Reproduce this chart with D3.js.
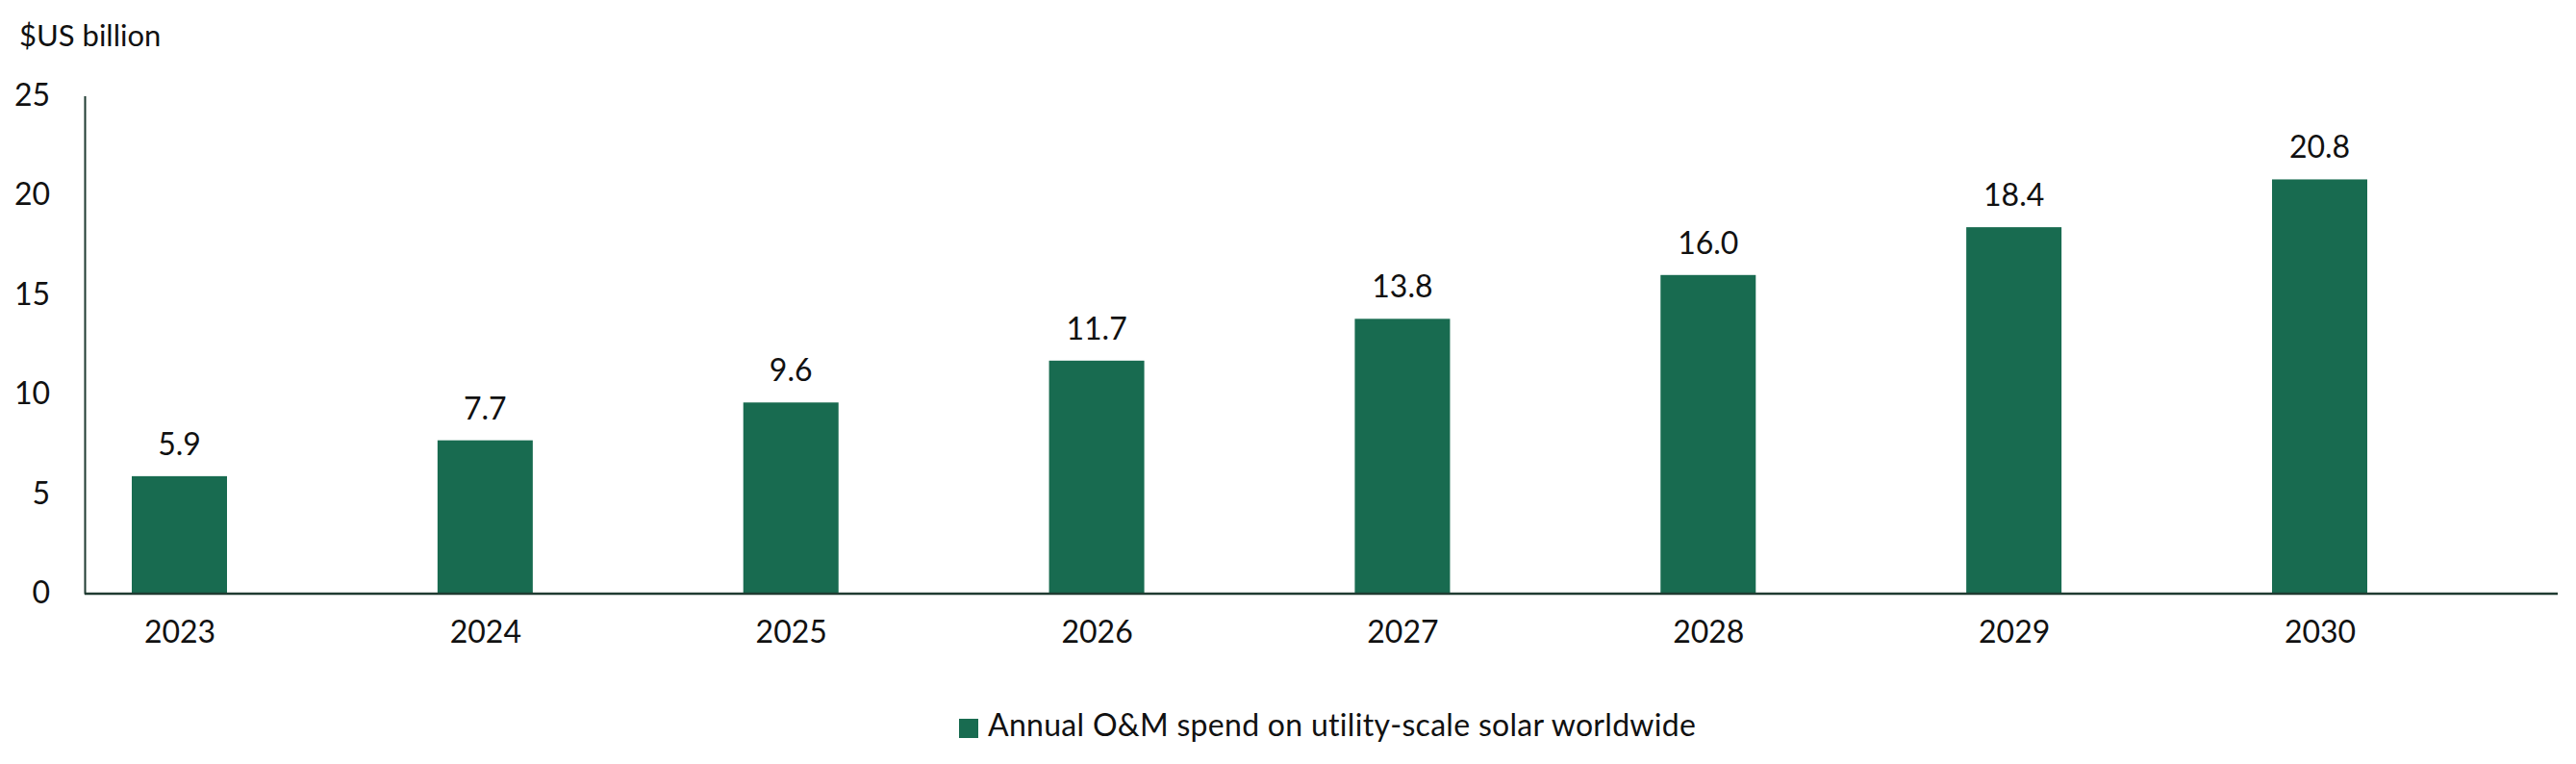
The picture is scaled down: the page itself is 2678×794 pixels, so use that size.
<!DOCTYPE html>
<html>
<head>
<meta charset="utf-8">
<script src="https://cdn.jsdelivr.net/npm/d3@7"></script>
<style>
  body { margin: 0; background: #fff; }
  svg text { font-family: Lato, "Open Sans", sans-serif; fill: #111; }
</style>
</head>
<body>
<div id="chart"></div>
<script>
// chart data
var years = ["2023", "2024", "2025", "2026", "2027", "2028", "2029", "2030"];
var spend = [5.9, 7.7, 9.6, 11.7, 13.8, 16.0, 18.4, 20.8];
var yTicks = [0, 5, 10, 15, 20, 25];
var unitLabel = "$US billion";
var seriesName = "Annual O&M spend on utility-scale solar worldwide";

var W = 2678, H = 794;
var barColor = "#186b50";
var axisColor = "#1f3b31";

var svg = d3.select("#chart")
  .append("svg")
    .attr("width", W)
    .attr("height", H);

// scales
var x = d3.scalePoint()
  .domain(years)
  .range([186.5, 2411.5]);

var y = d3.scaleLinear()
  .domain([0, 25])
  .range([617, 99.5]);

var barW = 99;

// unit title
svg.append("text")
  .attr("x", 20)
  .attr("y", 48)
  .style("font-size", "31px")
  .text(unitLabel);

// y axis
var yAxis = svg.append("g")
  .attr("transform", "translate(88,0)")
  .call(d3.axisLeft(y).tickValues(yTicks).tickSize(0).tickSizeOuter(0).tickPadding(36));
yAxis.select(".domain").attr("stroke", axisColor).attr("stroke-width", 2);
yAxis.selectAll("text")
  .style("font-size", "32px")
  .attr("dy", "0.3em");

// bars
svg.selectAll("rect.bar")
  .data(spend)
  .enter()
  .append("rect")
    .attr("class", "bar")
    .attr("x", function(d, i) { return x(years[i]) - barW / 2; })
    .attr("y", function(d) { return y(d); })
    .attr("width", barW)
    .attr("height", function(d) { return y(0) - y(d); })
    .attr("fill", barColor);

// value labels
svg.selectAll("text.val")
  .data(spend)
  .enter()
  .append("text")
    .attr("class", "val")
    .attr("x", function(d, i) { return x(years[i]); })
    .attr("y", function(d) { return y(d) - 22; })
    .attr("text-anchor", "middle")
    .style("font-size", "32px")
    .text(function(d) { return d.toFixed(1); });

// x axis (labels only, baseline drawn below)
var xAxis = svg.append("g")
  .attr("transform", "translate(0," + y(0) + ")")
  .call(d3.axisBottom(x).tickSize(0).tickPadding(28));
xAxis.select(".domain").remove();
xAxis.selectAll("text")
  .style("font-size", "32px")
  .attr("dy", "0.71em");

svg.append("line")
  .attr("x1", 88)
  .attr("x2", 2659)
  .attr("y1", y(0))
  .attr("y2", y(0))
  .attr("stroke", axisColor)
  .attr("stroke-width", 2.5);

// legend
var legend = svg.append("g").attr("transform", "translate(997,747)");
legend.append("rect")
  .attr("width", 20)
  .attr("height", 20)
  .attr("fill", barColor);
legend.append("text")
  .attr("x", 30)
  .attr("y", 18)
  .style("font-size", "32px")
  .style("letter-spacing", "0.3px")
  .text(seriesName);
</script>
</body>
</html>
